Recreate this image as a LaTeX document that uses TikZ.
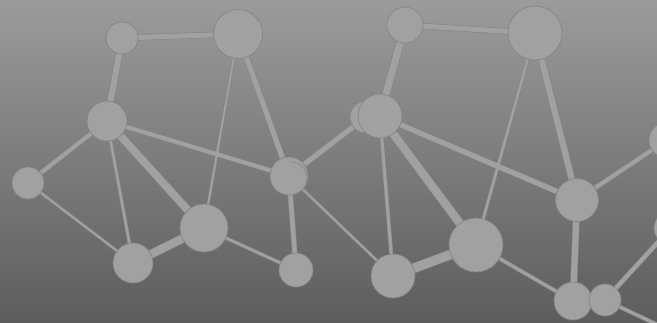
\documentclass[tikz,border=0pt]{standalone}
\definecolor{bgtop}{HTML}{9B9B9B}
\definecolor{bgbot}{HTML}{5D5D5D}
\definecolor{nodefill}{HTML}{A1A1A1}
\definecolor{nodeline}{HTML}{858585}
\pgfdeclarelayer{bg}\pgfdeclarelayer{eo}\pgfdeclarelayer{ef}
\pgfsetlayers{bg,eo,ef,main}
\tikzset{
  dot/.style={circle, fill=nodefill, draw=nodeline, line width=0.7pt, inner sep=0pt, outer sep=0pt, minimum size=#1},
}
\newcommand\lnk[3]{%
  \begin{pgfonlayer}{eo}\draw[line width=#1pt+1.2pt, nodeline] (#2) -- (#3);\end{pgfonlayer}%
  \begin{pgfonlayer}{ef}\draw[line width=#1pt, nodefill] (#2) -- (#3);\end{pgfonlayer}}
\begin{document}
\begin{tikzpicture}[x=1pt,y=-1pt]
\useasboundingbox (0,0) rectangle (657,322);
\clip (0,0) rectangle (657,322);
\begin{pgfonlayer}{bg}
\shade[top color=bgtop, bottom color=bgbot] (0,0) rectangle (657,322);
\end{pgfonlayer}
% left cluster
\node[dot=32pt] (A) at (122,38) {};
\node[dot=49pt] (B) at (238,34) {};
\node[dot=40pt] (C) at (107,121) {};
\node[dot=32pt] (D) at (28,183) {};
\node[dot=40pt] (E) at (133,263) {};
\node[dot=48pt] (F) at (204,228) {};
\node[dot=38pt] (G) at (289,176) {};
\draw[nodeline, line width=0.7pt] (291,178) ++(-95:16) arc[start angle=-95, end angle=25, radius=16];
\node[dot=34pt] (H) at (296,270) {};
% right cluster
\node[dot=36pt] (I) at (405,25) {};
\node[dot=54pt] (J) at (535,33) {};
\node[dot=32pt] (K2) at (366,117) {};
\node[dot=44pt] (K) at (380,116) {};
\node[dot=43pt] (L) at (577,200) {};
\node[dot=54pt] (M) at (476,245) {};
\node[dot=44pt] (N) at (393,276) {};
\node[dot=38pt] (O) at (573,301) {};
\node[dot=32pt] (P) at (605,300) {};
\node[dot=36pt] (Q) at (667,140) {};
\node[dot=34pt] (R) at (671,228) {};
\coordinate (S) at (690,340);
% edges
\lnk{5}{A}{B}
\lnk{6}{A}{C}
\lnk{2}{B}{F}
\lnk{5}{B}{G}
\lnk{4}{C}{D}
\lnk{2.5}{C}{E}
\lnk{7.5}{C}{F}
\lnk{4}{C}{G}
\lnk{2}{D}{E}
\lnk{8}{E}{F}
\lnk{2.5}{F}{H}
\lnk{4.5}{G}{H}
\lnk{5}{G}{K2}
\lnk{2}{G}{N}
\lnk{5}{I}{J}
\lnk{7}{I}{K}
\lnk{2.5}{J}{M}
\lnk{6}{J}{L}
\lnk{5}{K}{L}
\lnk{8}{K}{M}
\lnk{3}{K}{N}
\lnk{6}{L}{O}
\lnk{4}{L}{Q}
\lnk{9}{M}{N}
\lnk{3}{M}{O}
\lnk{4}{P}{R}
\lnk{3}{P}{S}
\end{tikzpicture}
\end{document}
